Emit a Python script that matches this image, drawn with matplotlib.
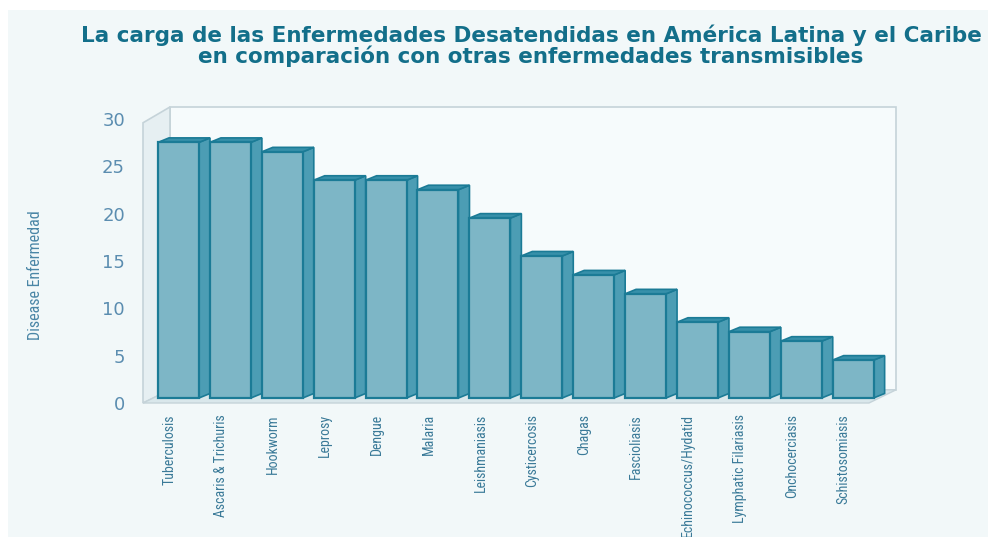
import matplotlib.pyplot as plt
import numpy as np
from matplotlib import font_manager

diseases = ['Tuberculosis', 'Ascaris & Trichuris', 'Hookworm', 'Leprosy', 'Dengue',
            'Malaria', 'Leishmaniasis', 'Cysticercosis', 'Chagas', 'Fascioliasis',
            'Echinococcus/Hydatid', 'Lymphatic Filariasis', 'Onchocerciasis', 'Schistosomiasis']
burden = [27, 27, 26, 23, 23, 22, 19, 15, 13, 11, 8, 7, 6, 4]
yticks = [0, 5, 10, 15, 20, 25, 30]

title = ('La carga de las Enfermedades Desatendidas en América Latina y el Caribe\n'
         'en comparación con otras enfermedades transmisibles')

front_c = '#7db6c6'
side_c = '#4c9db4'
top_c = '#3790aa'
edge_c = '#1b7b96'

# look for a narrow font for the axis labels
fonts = font_manager.fontManager.ttflist
narrow = None
for name in ['Liberation Sans Narrow', 'Roboto Condensed', 'Open Sans Condensed', 'Noto Sans Condensed']:
    if any(f.name == name for f in fonts):
        narrow = dict(family=[name, 'DejaVu Sans'])
        break
if narrow is None:
    cond = [f for f in fonts if f.name in ('DejaVu Sans', 'Noto Sans', 'Open Sans', 'Roboto')
            and 'condensed' in str(f.stretch).lower()]
    if cond:
        narrow = dict(family=[cond[0].name, 'DejaVu Sans'], stretch='condensed')
    else:
        narrow = dict(family=['DejaVu Sans'])
small = narrow['family'][0] == 'DejaVu Sans' and 'stretch' not in narrow

fig = plt.figure(figsize=(9.88, 5.37), dpi=100, facecolor='#f2f8f9')
# white margin strip at top/left like the scanned picture
fig.patches.append(plt.Rectangle((0, 1 - 10 / 537), 1, 10 / 537, transform=fig.transFigure,
                                 facecolor='white', edgecolor='none', zorder=0))
fig.patches.append(plt.Rectangle((0, 0), 8 / 988, 1, transform=fig.transFigure,
                                 facecolor='white', edgecolor='none', zorder=0))

ax = fig.add_axes([143 / 988, (537 - 403) / 537, 753 / 988, 284 / 537])
ax.set_facecolor('none')
x0, x1 = -0.684, 13.826
ax.set_xlim(x0, x1)
ax.set_ylim(0, 30)
for s in ax.spines.values():
    s.set_visible(False)

# walls and floor of the 3d box
wdx, wdy = 0.52, 1.39
ax.fill([x0 + wdx, x1, x1, x0 + wdx], [wdy, wdy, 31.27, 31.27],
        facecolor='#f6fbfc', edgecolor='#c5d3d9', lw=1.2, clip_on=False, zorder=1)
ax.fill([x0, x0, x0 + wdx, x0 + wdx], [0, 29.6, 31.27, wdy],
        facecolor='#e6eff2', edgecolor='#c5d3d9', lw=1.2, clip_on=False, zorder=1)
ax.fill([x0, x1 - wdx, x1, x0 + wdx], [0, 0, wdy, wdy],
        facecolor='#d9e7eb', edgecolor='#c5d3d9', lw=1.0, clip_on=False, zorder=1)

# bars with a fake 3d side and top
idx = np.arange(len(diseases))
w = 0.79
bdx, bdy = 0.212, 0.475
base = 0.53
ax.bar(idx, burden, width=w, bottom=base, color=front_c, edgecolor=edge_c, lw=1.6, zorder=3)
for i, v in zip(idx, burden):
    r = i + w / 2
    l = i - w / 2
    t = base + v
    ax.fill([r, r + bdx, r + bdx, r], [base, base + bdy, t + bdy, t],
            facecolor=side_c, edgecolor=edge_c, lw=1.2, zorder=2.9)
    ax.fill([l, l + bdx, r + bdx, r], [t, t + bdy, t + bdy, t],
            facecolor=top_c, edgecolor=edge_c, lw=1.2, zorder=2.9)

ax.set_yticks(yticks)
ax.tick_params(axis='y', length=0, pad=13, labelsize=13, labelcolor='#5b8db0')
ax.set_xticks(idx - 0.18)
ax.set_xticklabels(diseases, rotation=90, va='top', ha='center',
                   fontsize=8 if small else 10, color='#3a7a98', **narrow)
ax.tick_params(axis='x', length=0, pad=8)

fig.text(35 / 988, 1 - 275 / 537, 'Disease Enfermedad', rotation=90, ha='center', va='center',
         fontsize=9 if small else 11.5, color='#4a86a6', **narrow)

fig.text(531 / 988, 1 - 46 / 537, title, ha='center', va='center', fontsize=15.5,
         fontweight='bold', color='#136f8a', linespacing=0.95)

fig.savefig('out.png', dpi=100, facecolor=fig.get_facecolor())
